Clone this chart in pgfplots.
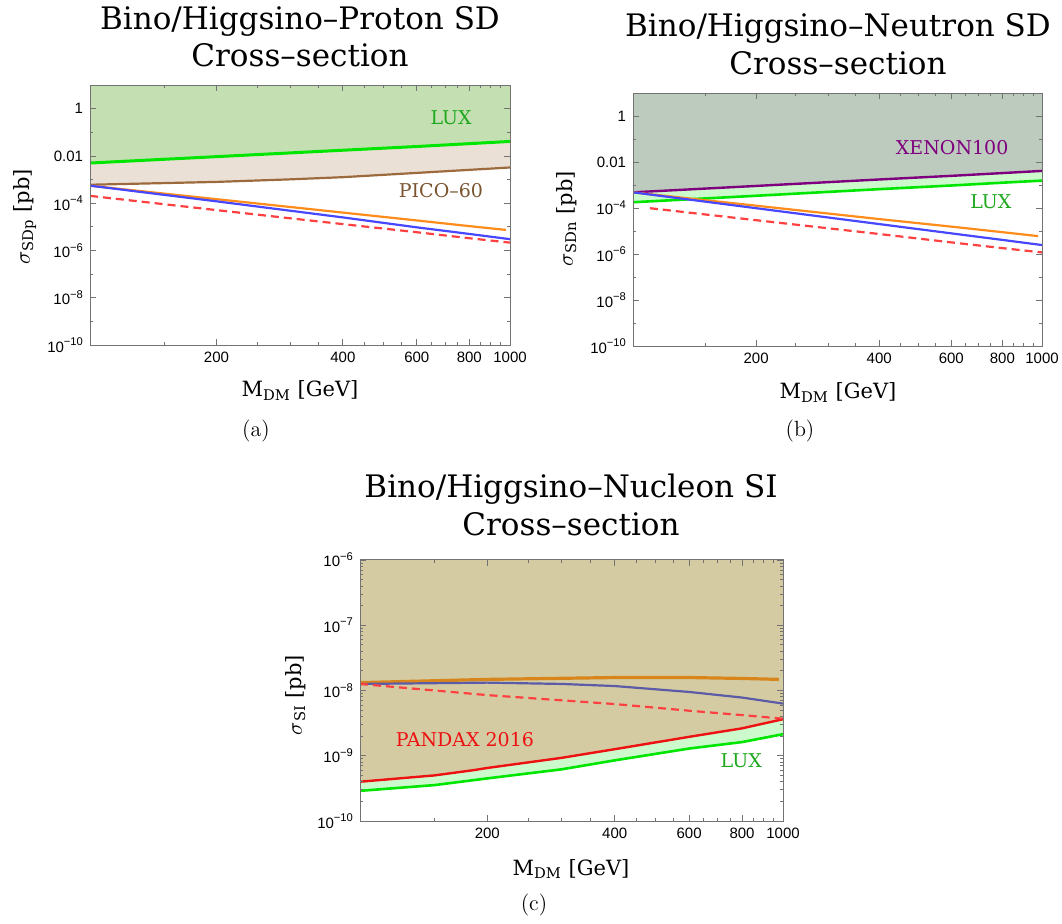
\documentclass[border=0pt]{standalone}
\usepackage{pgfplots}
\pgfplotsset{compat=1.18}
\usepackage{fontspec}
\newfontfamily\dvserif{DejaVu Serif}
\newfontfamily\ticksf{Liberation Sans}

\definecolor{luxline}{HTML}{00E600}
\definecolor{luxtext}{HTML}{1EA81E}
\definecolor{picoline}{HTML}{9C6A3C}
\definecolor{picotext}{HTML}{7B5530}
\definecolor{xenline}{HTML}{7F007F}
\definecolor{bluel}{HTML}{4747FF}
\definecolor{orangel}{HTML}{FF8C1A}
\definecolor{redd}{HTML}{FF4040}
\definecolor{luxfillA}{HTML}{C4E0B2}
\definecolor{picofill}{HTML}{EAE0D6}
\definecolor{xenfill}{HTML}{BCCBBD}
\definecolor{luxfillB}{HTML}{CCFACC}
\definecolor{pandafill}{HTML}{D4CBA3}
\definecolor{pandaline}{HTML}{EE1111}
\definecolor{orangec}{HTML}{D8861C}
\definecolor{bluec}{HTML}{5B5BA8}

\newcommand{\ttl}{\dvserif\fontsize{15.5}{18}\selectfont}
\newcommand{\lbl}{\dvserif\fontsize{10.5}{12}\selectfont}
\newcommand{\ann}{\dvserif\fontsize{9.5}{11}\selectfont}
\newcommand{\tks}{\ticksf\fontsize{7.5}{8}\selectfont}
% power of ten tick label in text font
\newcommand{\tp}[1]{10\raisebox{0.8ex}{\fontsize{5.6}{6}\selectfont −#1}}

\begin{document}
\begin{tikzpicture}
\useasboundingbox (0,0) rectangle (531pt,461.5pt);

% ---------- (a) proton SD
\begin{axis}[scale only axis, anchor=south west, at={(45pt,289pt)}, width=210pt, height=130pt,
  xmode=log, ymode=log, xmin=100, xmax=1000, ymin=1e-10, ymax=10,
  xtick={200,400,600,800,1000}, xticklabels={200,400,600,800,1000},
  minor xtick={150,250,300,350,450,500,550,650,700,750,850,900,950},
  ytick={1e-10,1e-8,1e-6,1e-4,1e-2,1},
  yticklabels={\tp{10},\tp{8},\tp{6},\tp{4},0.01,1},
  minor ytick={1e-9,1e-7,1e-5,1e-3,0.1},
  axis on top, axis line style={draw=black!55, line width=0.5pt},
  every tick/.style={draw=black!55, line width=0.4pt},
  major tick length=3pt, minor tick length=1.6pt,
  tick label style={font=\tks}]
\addplot[draw=none, fill=picofill] coordinates {
  (100,6.03e-4) (150,7.08e-4) (200,7.94e-4) (300,1.02e-3) (400,1.26e-3)
  (600,1.91e-3) (800,2.57e-3) (1000,3.24e-3) (1000,10) (100,10)} -- cycle;
\addplot[draw=none, fill=luxfillA] coordinates {
  (100,5.0e-3) (200,9.3e-3) (400,1.74e-2) (600,2.5e-2) (800,3.3e-2)
  (1000,4.1e-2) (1000,10) (100,10)} -- cycle;
\addplot[luxline, line width=1.5pt] coordinates {
  (100,5.0e-3) (200,9.3e-3) (400,1.74e-2) (600,2.5e-2) (800,3.3e-2) (1000,4.1e-2)};
\addplot[picoline, line width=1.1pt] coordinates {
  (100,6.03e-4) (150,7.08e-4) (200,7.94e-4) (300,1.02e-3) (400,1.26e-3)
  (600,1.91e-3) (800,2.57e-3) (1000,3.24e-3)};
\addplot[orangel, line width=1.1pt] coordinates {
  (100,5.5e-4) (200,1.48e-4) (400,4.0e-5) (600,1.86e-5) (800,1.07e-5) (978,7.4e-6)};
\addplot[bluel, line width=1.1pt] coordinates {
  (100,5.5e-4) (200,1.2e-4) (400,2.5e-5) (600,9.5e-6) (800,5.0e-6) (1000,3.0e-6)};
\addplot[redd, line width=1.1pt, dash pattern=on 4pt off 2.5pt] coordinates {
  (100,2.04e-4) (200,5.1e-5) (400,1.3e-5) (600,5.9e-6) (800,3.3e-6) (1000,2.14e-6)};
\node[text=luxtext, font=\ann] at (axis cs:724,0.4) {LUX};
\node[text=picotext, font=\ann] at (axis cs:685,3.4e-4) {PICO–60};
\end{axis}

% ---------- (b) neutron SD
\begin{axis}[scale only axis, anchor=south west, at={(316.5pt,288.5pt)}, width=204.5pt, height=126.5pt,
  xmode=log, ymode=log, xmin=100, xmax=1000, ymin=1e-10, ymax=10,
  xtick={200,400,600,800,1000}, xticklabels={200,400,600,800,1000},
  minor xtick={150,250,300,350,450,500,550,650,700,750,850,900,950},
  ytick={1e-10,1e-8,1e-6,1e-4,1e-2,1},
  yticklabels={\tp{10},\tp{8},\tp{6},\tp{4},0.01,1},
  minor ytick={1e-9,1e-7,1e-5,1e-3,0.1},
  axis on top, axis line style={draw=black!55, line width=0.5pt},
  every tick/.style={draw=black!55, line width=0.4pt},
  major tick length=3pt, minor tick length=1.6pt,
  tick label style={font=\tks}]
\addplot[draw=none, fill=luxfillB] coordinates {
  (100,1.78e-4) (200,3.4e-4) (400,6.6e-4) (600,9.5e-4) (800,1.26e-3)
  (1000,1.55e-3) (1000,10) (100,10)} -- cycle;
\addplot[draw=none, fill=xenfill] coordinates {
  (100,4.8e-4) (200,9.1e-4) (400,1.74e-3) (600,2.5e-3) (800,3.3e-3)
  (1000,4.1e-3) (1000,10) (100,10)} -- cycle;
\addplot[xenline, line width=1.2pt] coordinates {
  (100,4.8e-4) (200,9.1e-4) (400,1.74e-3) (600,2.5e-3) (800,3.3e-3) (1000,4.1e-3)};
\addplot[luxline, line width=1.3pt] coordinates {
  (100,1.78e-4) (200,3.4e-4) (400,6.6e-4) (600,9.5e-4) (800,1.26e-3) (1000,1.55e-3)};
\addplot[orangel, line width=1.1pt] coordinates {
  (100,4.8e-4) (200,1.26e-4) (400,3.3e-5) (600,1.55e-5) (800,8.9e-6) (978,6.0e-6)};
\addplot[bluel, line width=1.1pt] coordinates {
  (100,4.8e-4) (200,9.8e-5) (400,2.0e-5) (600,7.9e-6) (800,4.1e-6) (1000,2.45e-6)};
\addplot[redd, line width=1.1pt, dash pattern=on 4pt off 2.5pt] coordinates {
  (110,9.8e-5) (200,2.95e-5) (400,7.4e-6) (600,3.2e-6) (800,1.8e-6) (1000,1.17e-6)};
\node[text=xenline, font=\ann] at (axis cs:603,0.044) {XENON100};
\node[text=luxtext, font=\ann] at (axis cs:750,1.86e-4) {LUX};
\end{axis}

% ---------- (c) nucleon SI
\begin{axis}[scale only axis, anchor=south west, at={(180pt,51pt)}, width=211.5pt, height=130.5pt,
  xmode=log, ymode=log, xmin=100, xmax=1000, ymin=1e-10, ymax=1e-6,
  xtick={200,400,600,800,1000}, xticklabels={200,400,600,800,1000},
  minor xtick={150,250,300,350,450,500,550,650,700,750,850,900,950},
  ytick={1e-10,1e-9,1e-8,1e-7,1e-6},
  yticklabels={\tp{10},\tp{9},\tp{8},\tp{7},\tp{6}},
  minor ytick={2e-10,3e-10,4e-10,5e-10,6e-10,7e-10,8e-10,9e-10,
               2e-9,3e-9,4e-9,5e-9,6e-9,7e-9,8e-9,9e-9,
               2e-8,3e-8,4e-8,5e-8,6e-8,7e-8,8e-8,9e-8,
               2e-7,3e-7,4e-7,5e-7,6e-7,7e-7,8e-7,9e-7},
  axis on top, axis line style={draw=black!55, line width=0.5pt},
  every tick/.style={draw=black!55, line width=0.4pt},
  major tick length=3pt, minor tick length=1.6pt,
  tick label style={font=\tks}]
\addplot[draw=none, fill=luxfillB] coordinates {
  (100,2.9e-10) (150,3.55e-10) (200,4.5e-10) (300,6.2e-10) (400,8.5e-10)
  (600,1.29e-9) (800,1.62e-9) (1000,2.14e-9) (1000,1e-6) (100,1e-6)} -- cycle;
\addplot[draw=none, fill=pandafill] coordinates {
  (100,4.0e-10) (150,5.0e-10) (185,6.0e-10) (200,6.5e-10) (300,9.3e-10) (400,1.26e-9)
  (600,1.95e-9) (800,2.63e-9) (1000,3.63e-9) (1000,1e-6) (100,1e-6)} -- cycle;
\addplot[luxline, line width=0.4pt] coordinates {(1000,2.14e-9) (1000,1e-6)};
\addplot[luxline, line width=1.3pt] coordinates {
  (100,2.9e-10) (150,3.55e-10) (200,4.5e-10) (300,6.2e-10) (400,8.5e-10)
  (600,1.29e-9) (800,1.62e-9) (1000,2.14e-9)};
\addplot[pandaline, line width=1.2pt] coordinates {
  (100,4.0e-10) (150,5.0e-10) (185,6.0e-10) (200,6.5e-10) (300,9.3e-10) (400,1.26e-9)
  (600,1.95e-9) (800,2.63e-9) (1000,3.63e-9)};
\addplot[orangec, line width=1.6pt] coordinates {
  (100,1.32e-8) (200,1.48e-8) (400,1.58e-8) (600,1.58e-8) (800,1.53e-8) (978,1.48e-8)};
\addplot[bluec, line width=1.1pt] coordinates {
  (100,1.26e-8) (200,1.32e-8) (300,1.26e-8) (400,1.17e-8) (600,9.5e-9) (800,7.8e-9) (1000,6.3e-9)};
\addplot[redd, line width=1.1pt, dash pattern=on 4pt off 2.5pt] coordinates {
  (100,1.26e-8) (200,8.5e-9) (400,6.2e-9) (600,4.9e-9) (800,4.2e-9) (1000,3.7e-9)};
\node[text=pandaline, font=\ann] at (axis cs:177,1.8e-9) {PANDAX 2016};
\node[text=luxtext, font=\ann] at (axis cs:797,8.3e-10) {LUX};
\end{axis}

% ---------- titles, axis labels, captions
\node[anchor=base, font=\ttl] at (150pt,446.5pt) {Bino/Higgsino–Proton SD};
\node[anchor=base, font=\ttl] at (150pt,428pt) {Cross–section};
\node[anchor=base, font=\ttl] at (419pt,443pt) {Bino/Higgsino–Neutron SD};
\node[anchor=base, font=\ttl] at (419pt,424pt) {Cross–section};
\node[anchor=base, font=\ttl] at (285.5pt,212.5pt) {Bino/Higgsino–Nucleon SI};
\node[anchor=base, font=\ttl] at (285.5pt,193.5pt) {Cross–section};

\node[anchor=base, font=\lbl] at (150pt,263pt) {M\textsubscript{DM} [GeV]};
\node[anchor=base, font=\lbl] at (419pt,262pt) {M\textsubscript{DM} [GeV]};
\node[anchor=base, font=\lbl] at (285.5pt,24pt) {M\textsubscript{DM} [GeV]};

\node[rotate=90, font=\lbl] at (12.5pt,353pt) {$\sigma$\textsubscript{SDp} [pb]};
\node[rotate=90, font=\lbl] at (283.5pt,352pt) {$\sigma$\textsubscript{SDn} [pb]};
\node[rotate=90, font=\lbl] at (148pt,114pt) {$\sigma$\textsubscript{SI} [pb]};

\node[anchor=base, font=\fontsize{11}{13}\selectfont] at (128pt,243pt) {(a)};
\node[anchor=base, font=\fontsize{11}{13}\selectfont] at (400pt,243pt) {(b)};
\node[anchor=base, font=\fontsize{11}{13}\selectfont] at (267pt,6.5pt) {(c)};
\end{tikzpicture}
\end{document}
